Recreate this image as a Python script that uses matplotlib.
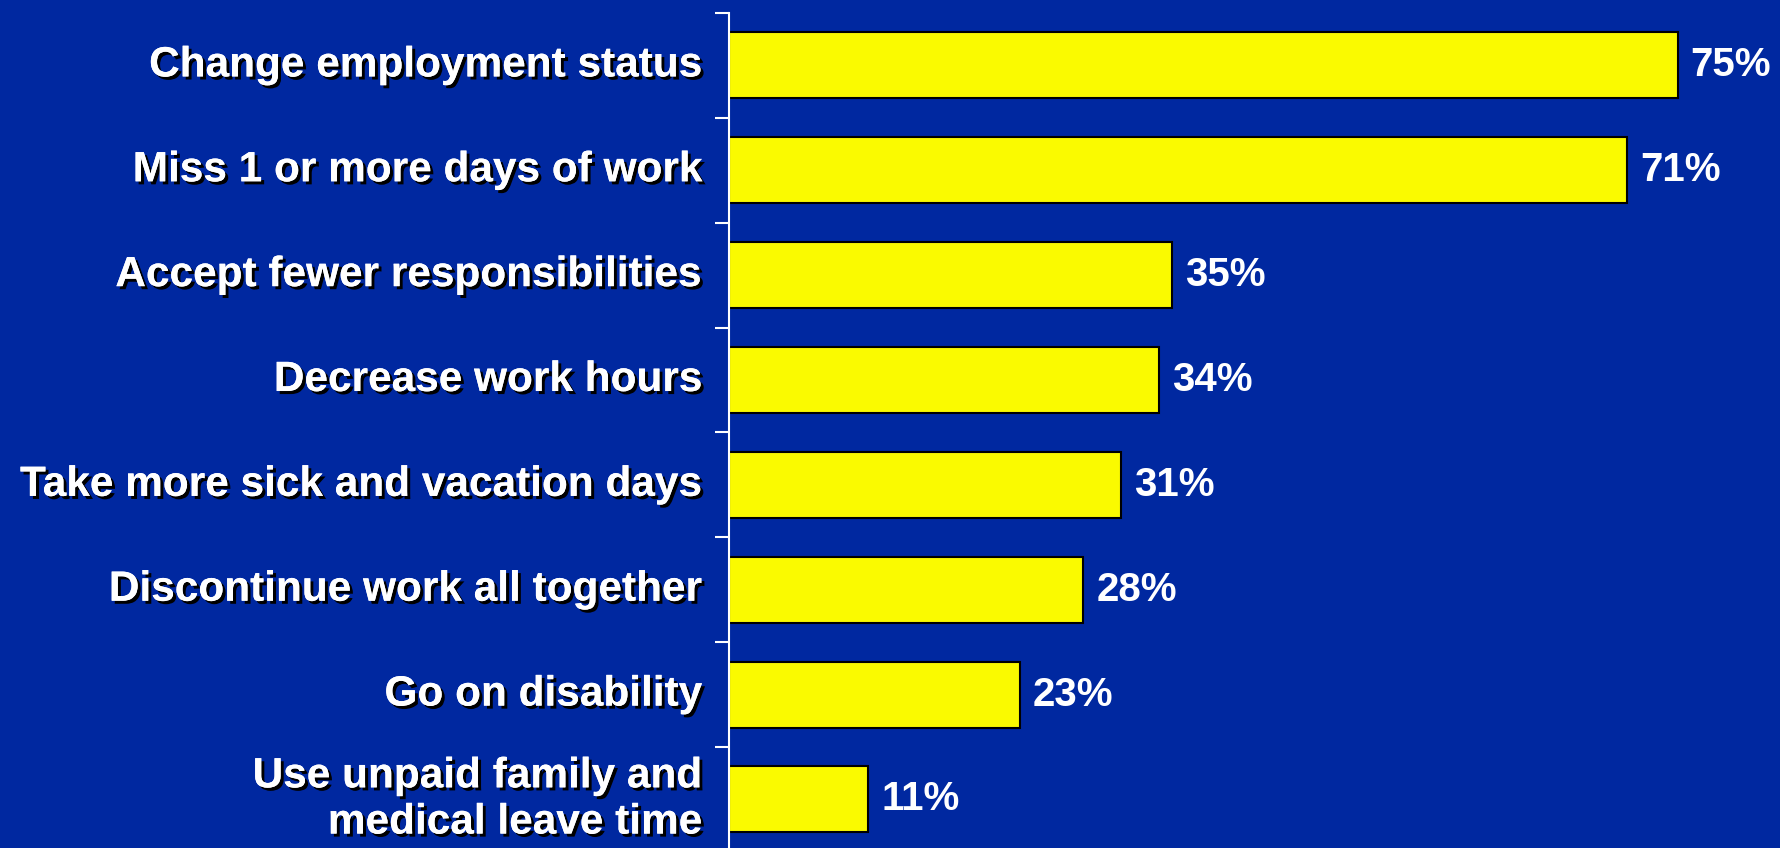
import matplotlib
matplotlib.use("Agg")
import matplotlib.pyplot as plt
import matplotlib.patheffects as pe
import numpy as np

categories = [
    "Change employment status",
    "Miss 1 or more days of work",
    "Accept fewer responsibilities",
    "Decrease work hours",
    "Take more sick and vacation days",
    "Discontinue work all together",
    "Go on disability",
    "Use unpaid family and\nmedical leave time",
]
values = [75, 71, 35, 34, 31, 28, 23, 11]
value_labels = ["75%", "71%", "35%", "34%", "31%", "28%", "23%", "11%"]

BG = "#0028A0"
W, H = 1780, 848
fig = plt.figure(figsize=(W / 100, H / 100), dpi=100)
fig.patch.set_facecolor(BG)

ax_left = 729 / W
ax_top = 13
band = 104.86
ax_h = 8 * band
ax = fig.add_axes([ax_left, 1 - (ax_top + ax_h) / H, 1 - ax_left, ax_h / H])
ax.set_facecolor(BG)

y = np.arange(len(categories))
ax.barh(y, values, height=0.63, color="#FAFA00", edgecolor="black", linewidth=1.5)
ax.set_xlim(0, (W - 729) / 12.65)
ax.set_ylim(len(categories) - 0.5, -0.5)

for s in ["top", "right", "bottom"]:
    ax.spines[s].set_visible(False)
ax.spines["left"].set_color("white")
ax.spines["left"].set_linewidth(1.5)
ax.set_xticks([])
ax.set_yticks(np.arange(len(categories) + 1) - 0.5)
ax.set_yticklabels([])
ax.tick_params(axis="y", direction="out", length=10, width=1.5, color="white")

cat_font = dict(family="Liberation Sans", weight="bold", size=30.5, color="white")
val_font = dict(family="Liberation Sans", weight="bold", size=29, color="white")
shadow = [pe.withSimplePatchShadow(offset=(2.2, -2.2), shadow_rgbFace="black", alpha=1.0), pe.Normal()]
for yi, lab in zip(y, categories):
    ax.annotate(lab, xy=(0, yi), xytext=(-26, 0), textcoords="offset pixels",
                ha="right", va="center", ma="right", linespacing=1.2,
                path_effects=shadow, annotation_clip=False, **cat_font)
for yi, v, lab in zip(y, values, value_labels):
    ax.annotate(lab, xy=(v, yi), xytext=(13, 0), textcoords="offset pixels",
                ha="left", va="center", annotation_clip=False, **val_font)

fig.savefig("out.png", dpi=100, facecolor=BG)
